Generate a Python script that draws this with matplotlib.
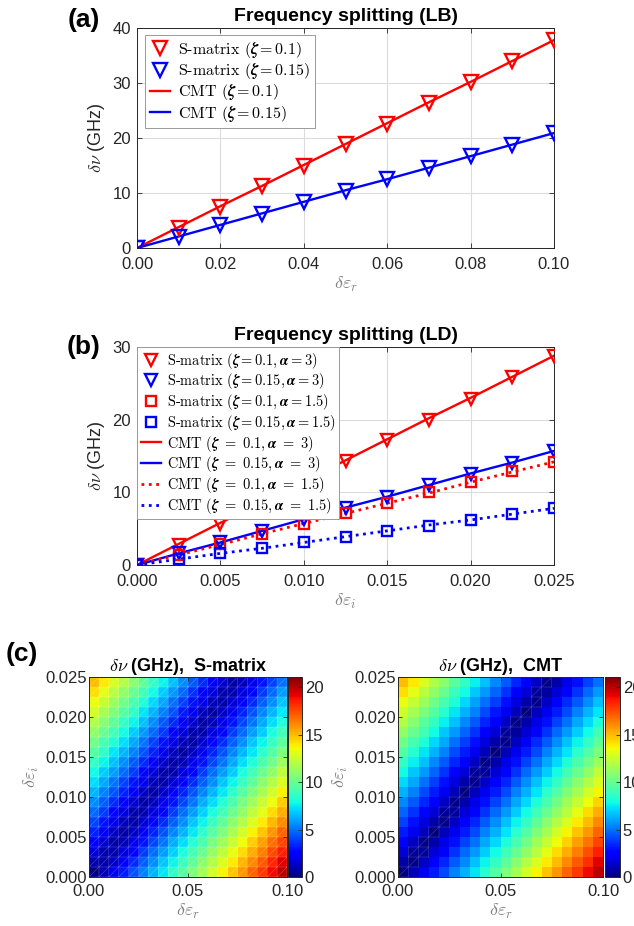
import numpy as np
import matplotlib
matplotlib.use("Agg")
import matplotlib.pyplot as plt
import matplotlib.tri as mtri

# ---- (a) frequency splitting vs. real perturbation (LB) ----
x_lb = [0.0, 0.01, 0.02, 0.03, 0.04, 0.05, 0.06, 0.07, 0.08, 0.09, 0.10]
lb_smat_z010 = [0.0, 3.7, 7.5, 11.2, 15.0, 18.9, 22.6, 26.4, 30.2, 34.0, 37.8]
lb_smat_z015 = [0.0, 2.0, 4.1, 6.2, 8.3, 10.4, 12.5, 14.6, 16.7, 18.8, 20.9]
lb_cmt_z010 = [0.0, 3.8, 7.6, 11.3, 15.1, 18.9, 22.7, 26.5, 30.2, 34.0, 37.8]
lb_cmt_z015 = [0.0, 2.1, 4.2, 6.3, 8.4, 10.5, 12.5, 14.6, 16.7, 18.8, 20.9]

# ---- (b) frequency splitting vs. imaginary perturbation (LD) ----
x_ld = [0.0, 0.0025, 0.005, 0.0075, 0.01, 0.0125, 0.015, 0.0175, 0.02, 0.0225, 0.025]
ld_smat_z010_a3 = [0.0, 2.8, 5.6, 8.5, 11.4, 14.3, 17.2, 20.0, 22.9, 25.9, 28.8]
ld_smat_z015_a3 = [0.0, 1.6, 3.2, 4.7, 6.3, 7.8, 9.4, 11.0, 12.5, 14.1, 15.7]
ld_smat_z010_a15 = [0.0, 1.4, 2.9, 4.2, 5.7, 7.1, 8.5, 10.0, 11.4, 12.9, 14.2]
ld_smat_z015_a15 = [0.0, 0.8, 1.6, 2.3, 3.1, 3.9, 4.7, 5.4, 6.2, 7.0, 7.8]
ld_cmt_z010_a3 = [0.0, 2.9, 5.8, 8.6, 11.5, 14.4, 17.3, 20.2, 23.0, 25.9, 28.8]
ld_cmt_z015_a3 = [0.0, 1.6, 3.1, 4.7, 6.3, 7.9, 9.4, 11.0, 12.6, 14.1, 15.7]
ld_cmt_z010_a15 = [0.0, 1.4, 2.8, 4.3, 5.7, 7.1, 8.5, 9.9, 11.4, 12.8, 14.2]
ld_cmt_z015_a15 = [0.0, 0.8, 1.6, 2.3, 3.1, 3.9, 4.7, 5.5, 6.2, 7.0, 7.8]

# ---- (c) splitting maps, rows = d_eps_i (bottom -> top), cols = d_eps_r ----
eps_r_edges = np.linspace(0.0, 0.1, 21)
eps_i_edges = np.linspace(0.0, 0.025, 21)

map_smatrix = np.array([
    [0.0, 1.0, 2.1, 3.2, 4.3, 5.3, 6.4, 7.4, 8.5, 9.5, 10.6, 11.6, 12.7, 13.7, 14.8, 15.8, 16.9, 17.9, 19.0, 20.0],
    [0.9, 0.8, 1.4, 2.5, 3.5, 4.6, 5.6, 6.7, 7.7, 8.8, 9.8, 10.9, 11.9, 13.0, 14.0, 15.1, 16.1, 17.2, 18.3, 19.3],
    [1.7, 0.9, 0.9, 1.8, 2.8, 3.8, 4.9, 5.9, 7.0, 8.0, 9.1, 10.1, 11.2, 12.2, 13.3, 14.3, 15.4, 16.4, 17.5, 18.5],
    [2.5, 1.5, 0.8, 1.1, 2.0, 3.0, 4.1, 5.1, 6.2, 7.2, 8.3, 9.3, 10.4, 11.4, 12.5, 13.5, 14.6, 15.6, 16.7, 17.7],
    [3.3, 2.2, 1.3, 0.7, 1.3, 2.3, 3.3, 4.3, 5.4, 6.4, 7.5, 8.5, 9.6, 10.6, 11.7, 12.7, 13.8, 14.8, 15.9, 16.9],
    [4.1, 3.0, 2.0, 1.1, 0.8, 1.5, 2.5, 3.5, 4.6, 5.6, 6.7, 7.7, 8.8, 9.8, 10.9, 11.9, 13.0, 14.0, 15.1, 16.1],
    [4.8, 3.8, 2.7, 1.8, 0.9, 0.9, 1.8, 2.8, 3.8, 4.9, 5.9, 7.0, 8.0, 9.0, 10.1, 11.1, 12.2, 13.2, 14.3, 15.3],
    [5.6, 4.6, 3.5, 2.5, 1.5, 0.8, 1.1, 2.0, 3.0, 4.1, 5.1, 6.2, 7.2, 8.3, 9.3, 10.4, 11.4, 12.5, 13.5, 14.6],
    [6.4, 5.3, 4.3, 3.3, 2.2, 1.3, 0.7, 1.3, 2.3, 3.3, 4.3, 5.4, 6.4, 7.5, 8.5, 9.6, 10.6, 11.7, 12.7, 13.8],
    [7.2, 6.1, 5.1, 4.0, 3.0, 2.0, 1.1, 0.8, 1.5, 2.5, 3.5, 4.6, 5.6, 6.7, 7.7, 8.8, 9.8, 10.9, 11.9, 13.0],
    [7.9, 6.9, 5.9, 4.8, 3.8, 2.7, 1.8, 0.9, 0.9, 1.8, 2.8, 3.8, 4.9, 5.9, 6.9, 8.0, 9.0, 10.1, 11.1, 12.2],
    [8.7, 7.7, 6.6, 5.6, 4.5, 3.5, 2.5, 1.5, 0.8, 1.1, 2.0, 3.0, 4.1, 5.1, 6.1, 7.2, 8.2, 9.3, 10.3, 11.4],
    [9.5, 8.5, 7.4, 6.4, 5.3, 4.3, 3.3, 2.2, 1.3, 0.7, 1.3, 2.2, 3.3, 4.3, 5.4, 6.4, 7.4, 8.5, 9.5, 10.6],
    [10.3, 9.2, 8.2, 7.2, 6.1, 5.1, 4.0, 3.0, 2.0, 1.1, 0.8, 1.5, 2.5, 3.5, 4.6, 5.6, 6.7, 7.7, 8.8, 9.8],
    [11.1, 10.0, 9.0, 7.9, 6.9, 5.8, 4.8, 3.8, 2.7, 1.8, 0.9, 0.9, 1.8, 2.8, 3.8, 4.8, 5.9, 6.9, 8.0, 9.0],
    [11.9, 10.8, 9.8, 8.7, 7.7, 6.6, 5.6, 4.5, 3.5, 2.5, 1.5, 0.7, 1.1, 2.0, 3.0, 4.1, 5.1, 6.1, 7.2, 8.2],
    [12.7, 11.6, 10.6, 9.5, 8.5, 7.4, 6.4, 5.3, 4.3, 3.2, 2.2, 1.2, 0.7, 1.3, 2.2, 3.3, 4.3, 5.4, 6.4, 7.5],
    [13.4, 12.4, 11.3, 10.3, 9.2, 8.2, 7.1, 6.1, 5.0, 4.0, 3.0, 2.0, 1.1, 0.8, 1.5, 2.5, 3.5, 4.6, 5.6, 6.7],
    [14.2, 13.2, 12.1, 11.1, 10.0, 9.0, 7.9, 6.9, 5.8, 4.8, 3.7, 2.7, 1.8, 0.9, 0.9, 1.8, 2.8, 3.8, 4.8, 5.9],
    [15.0, 14.0, 12.9, 11.9, 10.8, 9.8, 8.7, 7.7, 6.6, 5.6, 4.5, 3.5, 2.5, 1.5, 0.7, 1.1, 2.0, 3.0, 4.0, 5.0],
])

map_cmt = np.array([
    [0.0, 1.1, 2.1, 3.2, 4.2, 5.3, 6.3, 7.4, 8.4, 9.5, 10.6, 11.6, 12.7, 13.7, 14.8, 15.8, 16.9, 17.9, 19.0, 20.0],
    [0.8, 0.3, 1.3, 2.4, 3.4, 4.5, 5.5, 6.6, 7.7, 8.7, 9.8, 10.8, 11.9, 12.9, 14.0, 15.0, 16.1, 17.2, 18.2, 19.3],
    [1.6, 0.5, 0.5, 1.6, 2.6, 3.7, 4.8, 5.8, 6.9, 7.9, 9.0, 10.0, 11.1, 12.1, 13.2, 14.3, 15.3, 16.4, 17.4, 18.5],
    [2.4, 1.3, 0.3, 0.8, 1.9, 2.9, 4.0, 5.0, 6.1, 7.1, 8.2, 9.2, 10.3, 11.4, 12.4, 13.5, 14.5, 15.6, 16.6, 17.7],
    [3.2, 2.1, 1.1, 0.0, 1.1, 2.1, 3.2, 4.2, 5.3, 6.3, 7.4, 8.5, 9.5, 10.6, 11.6, 12.7, 13.7, 14.8, 15.8, 16.9],
    [4.0, 2.9, 1.8, 0.8, 0.3, 1.3, 2.4, 3.4, 4.5, 5.6, 6.6, 7.7, 8.7, 9.8, 10.8, 11.9, 12.9, 14.0, 15.0, 16.1],
    [4.7, 3.7, 2.6, 1.6, 0.5, 0.5, 1.6, 2.7, 3.7, 4.8, 5.8, 6.9, 7.9, 9.0, 10.0, 11.1, 12.1, 13.2, 14.3, 15.3],
    [5.5, 4.5, 3.4, 2.4, 1.3, 0.3, 0.8, 1.9, 2.9, 4.0, 5.0, 6.1, 7.1, 8.2, 9.2, 10.3, 11.4, 12.4, 13.5, 14.5],
    [6.3, 5.3, 4.2, 3.2, 2.1, 1.0, 0.0, 1.1, 2.1, 3.2, 4.2, 5.3, 6.3, 7.4, 8.5, 9.5, 10.6, 11.6, 12.7, 13.7],
    [7.1, 6.1, 5.0, 3.9, 2.9, 1.8, 0.8, 0.3, 1.3, 2.4, 3.4, 4.5, 5.6, 6.6, 7.7, 8.7, 9.8, 10.8, 11.9, 12.9],
    [7.9, 6.8, 5.8, 4.7, 3.7, 2.6, 1.6, 0.5, 0.5, 1.6, 2.7, 3.7, 4.8, 5.8, 6.9, 7.9, 9.0, 10.0, 11.1, 12.2],
    [8.7, 7.6, 6.6, 5.5, 4.5, 3.4, 2.4, 1.3, 0.3, 0.8, 1.9, 2.9, 4.0, 5.0, 6.1, 7.1, 8.2, 9.3, 10.3, 11.4],
    [9.5, 8.4, 7.4, 6.3, 5.3, 4.2, 3.2, 2.1, 1.0, 0.0, 1.1, 2.1, 3.2, 4.2, 5.3, 6.4, 7.4, 8.5, 9.5, 10.6],
    [10.3, 9.2, 8.2, 7.1, 6.1, 5.0, 3.9, 2.9, 1.8, 0.8, 0.3, 1.3, 2.4, 3.5, 4.5, 5.6, 6.6, 7.7, 8.7, 9.8],
    [11.1, 10.0, 9.0, 7.9, 6.8, 5.8, 4.7, 3.7, 2.6, 1.6, 0.5, 0.6, 1.6, 2.7, 3.7, 4.8, 5.8, 6.9, 7.9, 9.0],
    [11.9, 10.8, 9.7, 8.7, 7.6, 6.6, 5.5, 4.5, 3.4, 2.4, 1.3, 0.2, 0.8, 1.9, 2.9, 4.0, 5.0, 6.1, 7.1, 8.2],
    [12.6, 11.6, 10.5, 9.5, 8.4, 7.4, 6.3, 5.3, 4.2, 3.1, 2.1, 1.0, 0.0, 1.1, 2.1, 3.2, 4.2, 5.3, 6.4, 7.4],
    [13.4, 12.4, 11.3, 10.3, 9.2, 8.2, 7.1, 6.0, 5.0, 3.9, 2.9, 1.8, 0.8, 0.3, 1.3, 2.4, 3.5, 4.5, 5.6, 6.6],
    [14.2, 13.2, 12.1, 11.1, 10.0, 8.9, 7.9, 6.8, 5.8, 4.7, 3.7, 2.6, 1.6, 0.5, 0.6, 1.6, 2.7, 3.7, 4.8, 5.8],
    [15.0, 14.0, 12.9, 11.8, 10.8, 9.7, 8.7, 7.6, 6.6, 5.5, 4.5, 3.4, 2.4, 1.3, 0.2, 0.8, 1.9, 2.9, 4.0, 5.0],
])
map_vmax = 21.1

# ---- style ----
DARK = "#262626"
GRAY = "#808080"
plt.rcParams["font.family"] = ["Liberation Sans", "DejaVu Sans"]
plt.rcParams["mathtext.fontset"] = "cm"
plt.rcParams["axes.edgecolor"] = DARK
plt.rcParams["axes.linewidth"] = 0.7
TICK_FS = 12
TITLE_FS = 14
LABEL_FS = 13

fig = plt.figure(figsize=(6.34, 9.26), dpi=100)
W, H = 634.0, 926.0


def px_axes(x0, y0, x1, y1):
    return fig.add_axes([x0 / W, 1 - y1 / H, (x1 - x0) / W, (y1 - y0) / H])


def style_axes(ax, grid=True):
    ax.tick_params(direction="in", top=True, right=True, length=3.5, width=0.6,
                   colors=DARK, labelsize=TICK_FS)
    ax.tick_params(axis="x", pad=6.5)
    ax.tick_params(axis="y", pad=4.5)
    if grid:
        ax.grid(True, color="#dcdcdc", linewidth=0.8)
        ax.set_axisbelow(True)


# (a)
ax_a = px_axes(137, 28, 554, 248)
style_axes(ax_a)
ax_a.plot(x_lb, lb_smat_z010, "v", color="red", mfc="none", mew=1.7, ms=10, ls="none",
          label=r"S-matrix $(\boldsymbol{\zeta}=0.1)$", zorder=4)
ax_a.plot(x_lb, lb_smat_z015, "v", color="blue", mfc="none", mew=1.7, ms=10, ls="none",
          label=r"S-matrix $(\boldsymbol{\zeta}=0.15)$", zorder=4)
ax_a.plot(x_lb, lb_cmt_z010, "-", color="red", lw=1.7, label=r"CMT $(\boldsymbol{\zeta}=0.1)$", zorder=3)
ax_a.plot(x_lb, lb_cmt_z015, "-", color="blue", lw=1.7, label=r"CMT $(\boldsymbol{\zeta}=0.15)$", zorder=3)
ax_a.set_xlim(0, 0.1)
ax_a.set_ylim(0, 40)
ax_a.set_xticks([0, 0.02, 0.04, 0.06, 0.08, 0.10])
ax_a.set_xticklabels(["0.00", "0.02", "0.04", "0.06", "0.08", "0.10"])
ax_a.set_yticks([0, 10, 20, 30, 40])
ax_a.set_xlabel(r"$\delta\varepsilon_r$", color=GRAY, fontsize=LABEL_FS, labelpad=2)
ax_a.set_ylabel(r"$\delta\nu$ (GHz)", color=DARK, fontsize=LABEL_FS, labelpad=4)
ax_a.set_title("Frequency splitting (LB)", fontsize=TITLE_FS, fontweight="bold", pad=5)
leg = ax_a.legend(loc="upper left", bbox_to_anchor=(0.019, 0.968), borderaxespad=0,
                  prop={"family": "cmr10", "size": 11.5}, fancybox=False, edgecolor="#9a9a9a",
                  framealpha=1, handlelength=1.3, handletextpad=0.5, labelspacing=0.08,
                  borderpad=0.3)
leg.get_frame().set_linewidth(0.7)

# (b)
ax_b = px_axes(137, 347, 554, 565)
style_axes(ax_b)
ax_b.plot(x_ld, ld_smat_z010_a3, "v", color="red", mfc="none", mew=1.7, ms=9, ls="none",
          label=r"S-matrix $(\boldsymbol{\zeta}=0.1, \boldsymbol{\alpha}=3)$", zorder=4)
ax_b.plot(x_ld, ld_smat_z015_a3, "v", color="blue", mfc="none", mew=1.7, ms=9, ls="none",
          label=r"S-matrix $(\boldsymbol{\zeta}=0.15, \boldsymbol{\alpha}=3)$", zorder=4)
ax_b.plot(x_ld, ld_smat_z010_a15, "s", color="red", mfc="none", mew=1.7, ms=6.5, ls="none",
          label=r"S-matrix $(\boldsymbol{\zeta}=0.1, \boldsymbol{\alpha}=1.5)$", zorder=4)
ax_b.plot(x_ld, ld_smat_z015_a15, "s", color="blue", mfc="none", mew=1.7, ms=6.5, ls="none",
          label=r"S-matrix $(\boldsymbol{\zeta}=0.15, \boldsymbol{\alpha}=1.5)$", zorder=4)
ax_b.plot(x_ld, ld_cmt_z010_a3, "-", color="red", lw=1.7,
          label=r"CMT $(\boldsymbol{\zeta}\ =\ 0.1, \boldsymbol{\alpha}\ =\ 3)$", zorder=3)
ax_b.plot(x_ld, ld_cmt_z015_a3, "-", color="blue", lw=1.7,
          label=r"CMT $(\boldsymbol{\zeta}\ =\ 0.15, \boldsymbol{\alpha}\ =\ 3)$", zorder=3)
ax_b.plot(x_ld, ld_cmt_z010_a15, ":", color="red", lw=2.0,
          label=r"CMT $(\boldsymbol{\zeta}\ =\ 0.1, \boldsymbol{\alpha}\ =\ 1.5)$", zorder=3)
ax_b.plot(x_ld, ld_cmt_z015_a15, ":", color="blue", lw=2.0,
          label=r"CMT $(\boldsymbol{\zeta}\ =\ 0.15, \boldsymbol{\alpha}\ =\ 1.5)$", zorder=3)
ax_b.set_xlim(0, 0.025)
ax_b.set_ylim(0, 30)
ax_b.set_xticks([0, 0.005, 0.01, 0.015, 0.02, 0.025])
ax_b.set_xticklabels(["0.000", "0.005", "0.010", "0.015", "0.020", "0.025"])
ax_b.set_yticks([0, 10, 20, 30])
ax_b.set_xlabel(r"$\delta\varepsilon_i$", color=GRAY, fontsize=LABEL_FS, labelpad=2)
ax_b.set_ylabel(r"$\delta\nu$ (GHz)", color=DARK, fontsize=LABEL_FS, labelpad=4)
ax_b.set_title("Frequency splitting (LD)", fontsize=TITLE_FS, fontweight="bold", pad=5)
leg = ax_b.legend(loc="upper left", bbox_to_anchor=(0, 1), borderaxespad=0,
                  prop={"family": "cmr10", "size": 10.4}, fancybox=False, edgecolor="#9a9a9a",
                  framealpha=1, handlelength=1.4, handletextpad=0.4, labelspacing=0.05,
                  borderpad=0.25)
leg.get_frame().set_linewidth(0.7)
leg.set_zorder(10)

# (c) maps with the triangulated mesh seams of the exported surfaces
Xn, Yn = np.meshgrid(eps_r_edges, eps_i_edges)
node = np.arange(Xn.size).reshape(Xn.shape)
ll = node[:-1, :-1].ravel()
lr = node[:-1, 1:].ravel()
ul = node[1:, :-1].ravel()
ur = node[1:, 1:].ravel()
tris = np.concatenate([np.stack([ll, lr, ur], 1), np.stack([ll, ur, ul], 1)])


def draw_map(ax, cax, data, title):
    mesh = ax.pcolormesh(eps_r_edges, eps_i_edges, data, cmap="jet", vmin=0, vmax=map_vmax,
                         shading="flat")
    ax.set_xlim(0, 0.1)
    ax.set_ylim(0, 0.025)
    ax.tick_params(direction="in", top=True, right=True, length=3, width=0.6,
                   colors=DARK, labelsize=TICK_FS)
    ax.tick_params(axis="x", pad=5)
    ax.tick_params(axis="y", pad=1.5)
    ax.set_xticks([0, 0.05, 0.1])
    ax.set_xticklabels(["0.00", "0.05", "0.10"])
    ax.set_yticks([0, 0.005, 0.01, 0.015, 0.02, 0.025])
    ax.set_yticklabels(["0.000", "0.005", "0.010", "0.015", "0.020", "0.025"])
    ax.set_xlabel(r"$\delta\varepsilon_r$", color=GRAY, fontsize=LABEL_FS, labelpad=2)
    ax.set_ylabel(r"$\delta\varepsilon_i$", color=GRAY, fontsize=LABEL_FS, labelpad=3)
    ax.set_title(r"$\delta\nu$ (GHz),  " + title, fontsize=13, fontweight="bold", pad=4)
    cb = fig.colorbar(mesh, cax=cax, ticks=[0, 5, 10, 15, 20])
    cb.outline.set_edgecolor(DARK)
    cb.outline.set_linewidth(0.7)
    cax.tick_params(direction="in", length=3, width=0.6, colors=DARK, labelsize=TICK_FS, pad=2)
    return mesh


ax_c1 = px_axes(89, 677, 287, 877)
cax_c1 = px_axes(288, 677, 302, 877)
draw_map(ax_c1, cax_c1, map_smatrix, "S-matrix")
tri_s = mtri.Triangulation(Xn.ravel(), Yn.ravel(), tris)
ax_c1.triplot(tri_s, color="white", lw=0.4, alpha=0.3)

ax_c2 = px_axes(398, 677, 603, 877)
cax_c2 = px_axes(605, 677, 620, 877)
draw_map(ax_c2, cax_c2, map_cmt, "CMT")
near_zero = map_cmt.ravel() < 0.6
tri_c = mtri.Triangulation(Xn.ravel(), Yn.ravel(), tris)
tri_c.set_mask(~np.concatenate([near_zero, near_zero]))
ax_c2.triplot(tri_c, color="#9a9ab4", lw=0.4, alpha=0.4)

# panel letters
fig.text(84 / W, 1 - 20 / H, "(a)", ha="center", va="center", fontsize=19, fontweight="bold")
fig.text(84 / W, 1 - 347 / H, "(b)", ha="center", va="center", fontsize=19, fontweight="bold")
fig.text(22 / W, 1 - 654 / H, "(c)", ha="center", va="center", fontsize=19, fontweight="bold")

fig.savefig("out.png", dpi=100)
